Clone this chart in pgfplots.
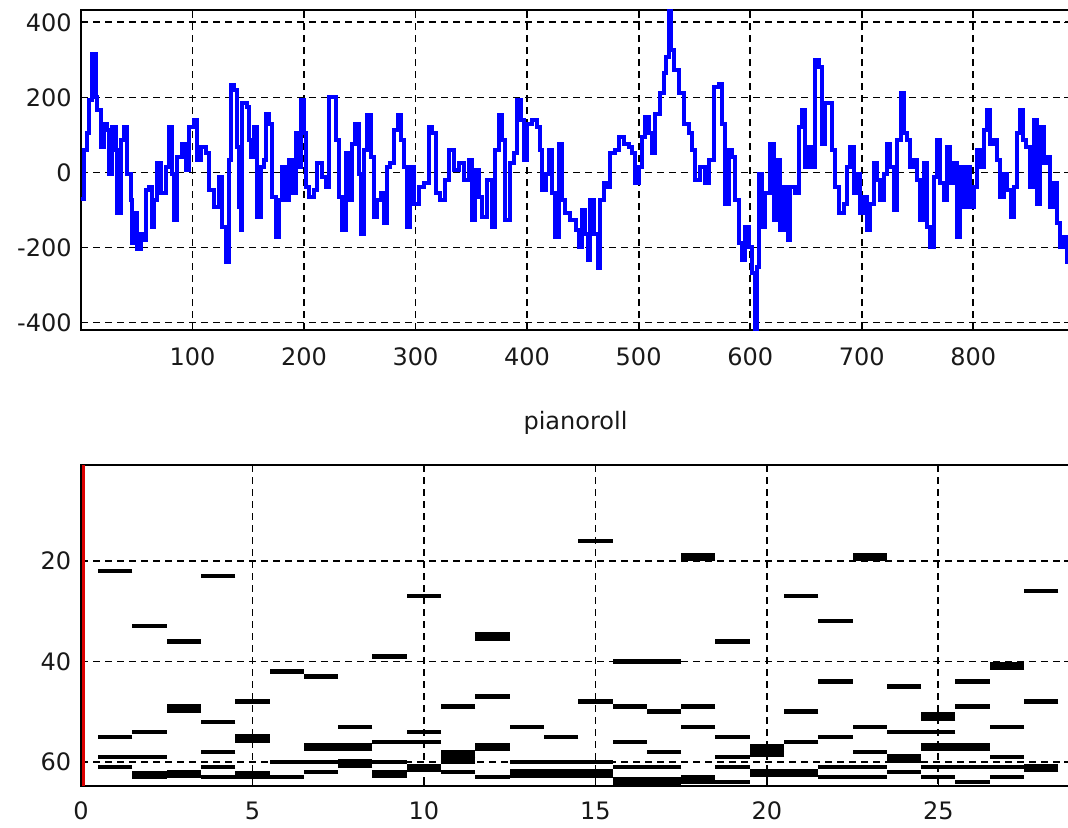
\documentclass[border=0pt]{standalone}
\usepackage{pgfplots}
\pgfplotsset{compat=1.18}
\usepackage{fontspec}
\setmainfont{DejaVu Sans}

\pgfplotsset{
  mlstyle/.style={
    scale only axis,
    axis line style={line width=1pt, black},
    tick align=inside,
    major tick length=3pt,
    tick style={black, line width=0.8pt},
    grid=major,
    major grid style={black, dash pattern=on 3.5pt off 2.5pt, line width=0.9pt},
    tick label style={font=\fontsize{12}{14}\selectfont, text=black!90},
  }
}

\begin{document}
\begin{tikzpicture}
\useasboundingbox (0,0) rectangle (534pt,413.5pt);

% ---------- top: signal ----------
\begin{axis}[mlstyle,
  at={(40.5pt,248.5pt)}, anchor=south west,
  width=494.5pt, height=160pt,
  xmin=0, xmax=886.8, ymin=-420, ymax=433,
  xtick={100,200,300,400,500,600,700,800},
  xticklabels={100,200,300,400,500,600,700,800},
  ytick={-400,-200,0,200,400},
  yticklabels={-400,-200,0,200,400},
  xticklabel style={inner sep=0pt, anchor=north, yshift=-8.5pt},
  yticklabel style={inner sep=0pt, anchor=east, xshift=-4.5pt},
]
\addplot[const plot, color={rgb,255:red,0;green,0;blue,255}, line width=2pt] table {
x y
0 -70
2.6 60
5.6 104
7.1 193
10.1 317
13.1 200
14.6 166
17.6 68
20.6 130
23.5 113
25.0 -3
28.0 122
31.0 60
32.5 -109
35.5 86
38.5 122
41.5 -3
44.5 -74
46.0 -189
48.9 -109
50.4 -203
53.4 -163
56.4 -180
57.9 -47
60.9 -38
63.9 -145
65.4 -74
68.4 24
71.4 -56
75.8 15
78.8 122
81.8 -3
83.3 -127
86.3 42
90.8 77
93.8 6
96.7 122
101.2 140
104.2 33
107.2 68
111.7 51
114.7 -47
119.2 -92
123.6 -12
126.6 -145
129.6 -238
132.6 33
134.1 233
137.1 220
140.1 68
141.6 -92
143.1 -154
144.6 184
149.1 175
150.6 86
152.1 42
155.1 122
158.0 -118
161.0 15
164.0 33
165.5 157
168.5 130
171.5 -65
174.5 -172
177.5 -74
180.5 15
183.4 -74
186.4 33
189.4 -56
192.4 104
195.4 15
197.7 193
199.9 104
201.4 -38
204.4 -65
208.8 -47
211.8 24
216.3 -12
219.3 -38
222.3 202
225.3 202
228.2 86
231.2 -65
234.2 -154
237.2 51
240.2 -74
243.2 77
246.1 130
249.1 -3
251.2 -163
253.6 60
256.6 153
259.6 42
262.6 -118
265.6 -74
268.6 -56
271.5 -136
274.5 15
277.5 24
280.5 113
284.1 153
286.5 86
289.5 15
292.5 -145
295.4 15
298.4 -83
302.9 -38
307.4 -29
311.9 122
314.9 104
317.9 -56
322.3 -74
326.8 -20
329.8 60
334.3 6
338.8 24
343.3 -20
347.7 33
350.7 -127
353.7 6
356.7 -65
359.7 -118
364.2 -20
368.7 -145
371.6 60
374.6 153
377.6 86
380.6 -127
385.1 24
388.1 51
391.1 193
394.1 140
397.0 33
400.0 130
404.5 140
409.0 122
412.0 60
413.5 -47
416.5 -3
419.5 60
422.4 -56
425.4 -172
428.4 77
431.4 -74
434.4 -109
438.9 -127
443.4 -154
446.3 -198
449.3 -100
452.3 -163
454.4 -234
456.8 -74
459.8 -163
463.4 -256
465.8 -74
468.7 -29
471.7 -38
474.7 51
479.2 60
482.2 95
486.7 77
491.2 68
494.2 51
497.1 -29
500.1 15
503.1 95
506.1 148
509.1 104
512.1 51
515.1 157
519.5 211
522.5 264
524.9 308
527.0 440
529.1 326
531.5 273
536.0 211
540.5 130
545.0 104
547.9 60
550.9 -20
555.3 15
559.8 -29
562.8 33
567.3 228
571.7 237
574.7 130
577.7 -83
580.7 60
583.7 42
586.7 -74
589.7 -189
592.7 -234
595.6 -145
598.6 -198
601.6 -269
604.6 -425
606.1 -252
607.6 -3
610.6 -145
613.6 -56
618.0 77
621.0 -127
624.0 33
627.0 -154
630.0 -38
633.6 -180
636.0 -38
640.5 -56
643.4 122
646.4 166
649.4 15
652.4 68
655.4 15
658.4 300
661.4 282
664.4 77
667.4 184
670.3 184
673.3 60
676.3 -38
679.3 -109
683.8 -83
686.8 15
689.8 68
692.8 -56
695.7 -3
698.7 -109
701.7 -65
704.7 -154
707.7 -83
710.7 24
713.7 -20
716.7 -74
719.6 -3
722.6 77
725.6 15
728.6 -100
731.6 86
735.5 211
737.6 104
740.6 86
743.5 15
746.5 33
749.5 -20
752.5 -127
755.5 24
758.5 -145
761.5 -198
764.5 -12
767.5 86
770.4 -29
773.4 -74
776.4 68
779.4 -29
782.4 24
785.4 -172
788.4 15
791.4 -92
794.3 15
797.3 -92
800.3 -38
803.3 60
806.3 15
809.3 113
812.3 166
815.3 77
818.2 86
821.2 33
824.2 -65
827.2 -3
830.2 -47
833.8 -118
836.2 -38
839.2 104
841.6 166
844.5 86
847.5 68
850.5 -38
854.1 140
857.1 -83
860.1 122
863.1 24
866.1 42
869.1 -92
872.0 -29
875.0 -136
878.0 -198
881.0 -172
884.0 -240
887.0 -240
};
\end{axis}

% ---------- bottom: pianoroll ----------
\begin{axis}[mlstyle,
  at={(40.5pt,20.5pt)}, anchor=south west,
  width=494.5pt, height=160.5pt,
  xmin=0, xmax=28.84, ymin=0.9, ymax=64.8, y dir=reverse,
  xtick={0,5,10,15,20,25},
  xticklabels={0,5,10,15,20,25},
  ytick={20,40,60},
  yticklabels={20,40,60},
  xticklabel style={inner sep=0pt, anchor=north, yshift=-7.8pt},
  yticklabel style={inner sep=0pt, anchor=east, xshift=-4.7pt},
  title={pianoroll},
  title style={at={(0.5,1)}, anchor=base, yshift=12pt, inner sep=0pt,
               font=\fontsize{12}{14}\selectfont, text=black!90},
]
% thin notes: beat, pitch
\addplot[only marks, mark=-, mark size=8.575pt,
         mark options={line width=2.2pt, black}] table {
beat pitch
1 22
1 55
1 59
1 61
2 33
2 54
2 59
3 36
4 23
4 52
4 58
4 61
4 63
5 48
6 42
6 60
6 63
7 43
7 60
7 62
8 53
9 39
9 56
9 60
10 27
10 54
10 56
11 49
11 62
12 47
12 63
13 53
13 60
14 55
14 60
15 16
15 48
15 60
16 40
16 49
16 56
16 61
17 40
17 50
17 58
17 61
18 49
18 53
19 36
19 55
19 59
19 61
19 64
21 27
21 50
21 56
22 32
22 44
22 55
22 61
22 63
23 53
23 58
23 61
23 63
24 45
24 54
24 62
25 54
25 61
25 63
26 44
26 49
26 61
26 64
27 53
27 59
27 61
27 63
28 26
28 48
29 60
};
% thick notes (two adjacent rows)
\addplot[only marks, mark=-, mark size=8.575pt,
         mark options={line width=4.3pt, black}] table {
beat pitch
2 62.6
3 49.4
3 62.4
5 55.3
5 62.6
7 57
8 57
8 60.3
9 62.4
10 61.2
11 58.4
11 59.5
12 35
12 57
13 62.3
14 62.3
15 62.3
16 63.9
17 63.9
18 19.2
18 63.5
20 57.2
20 58.2
20 62.2
21 62.2
23 19.2
24 59.3
25 51
25 57
26 57
27 40.9
28 61.2
};
% red cursor line at time 0
\addplot[color={rgb,255:red,220;green,0;blue,0}, line width=1.8pt]
  coordinates {(0.07,0.9) (0.07,64.8)};
\end{axis}
\end{tikzpicture}
\end{document}
